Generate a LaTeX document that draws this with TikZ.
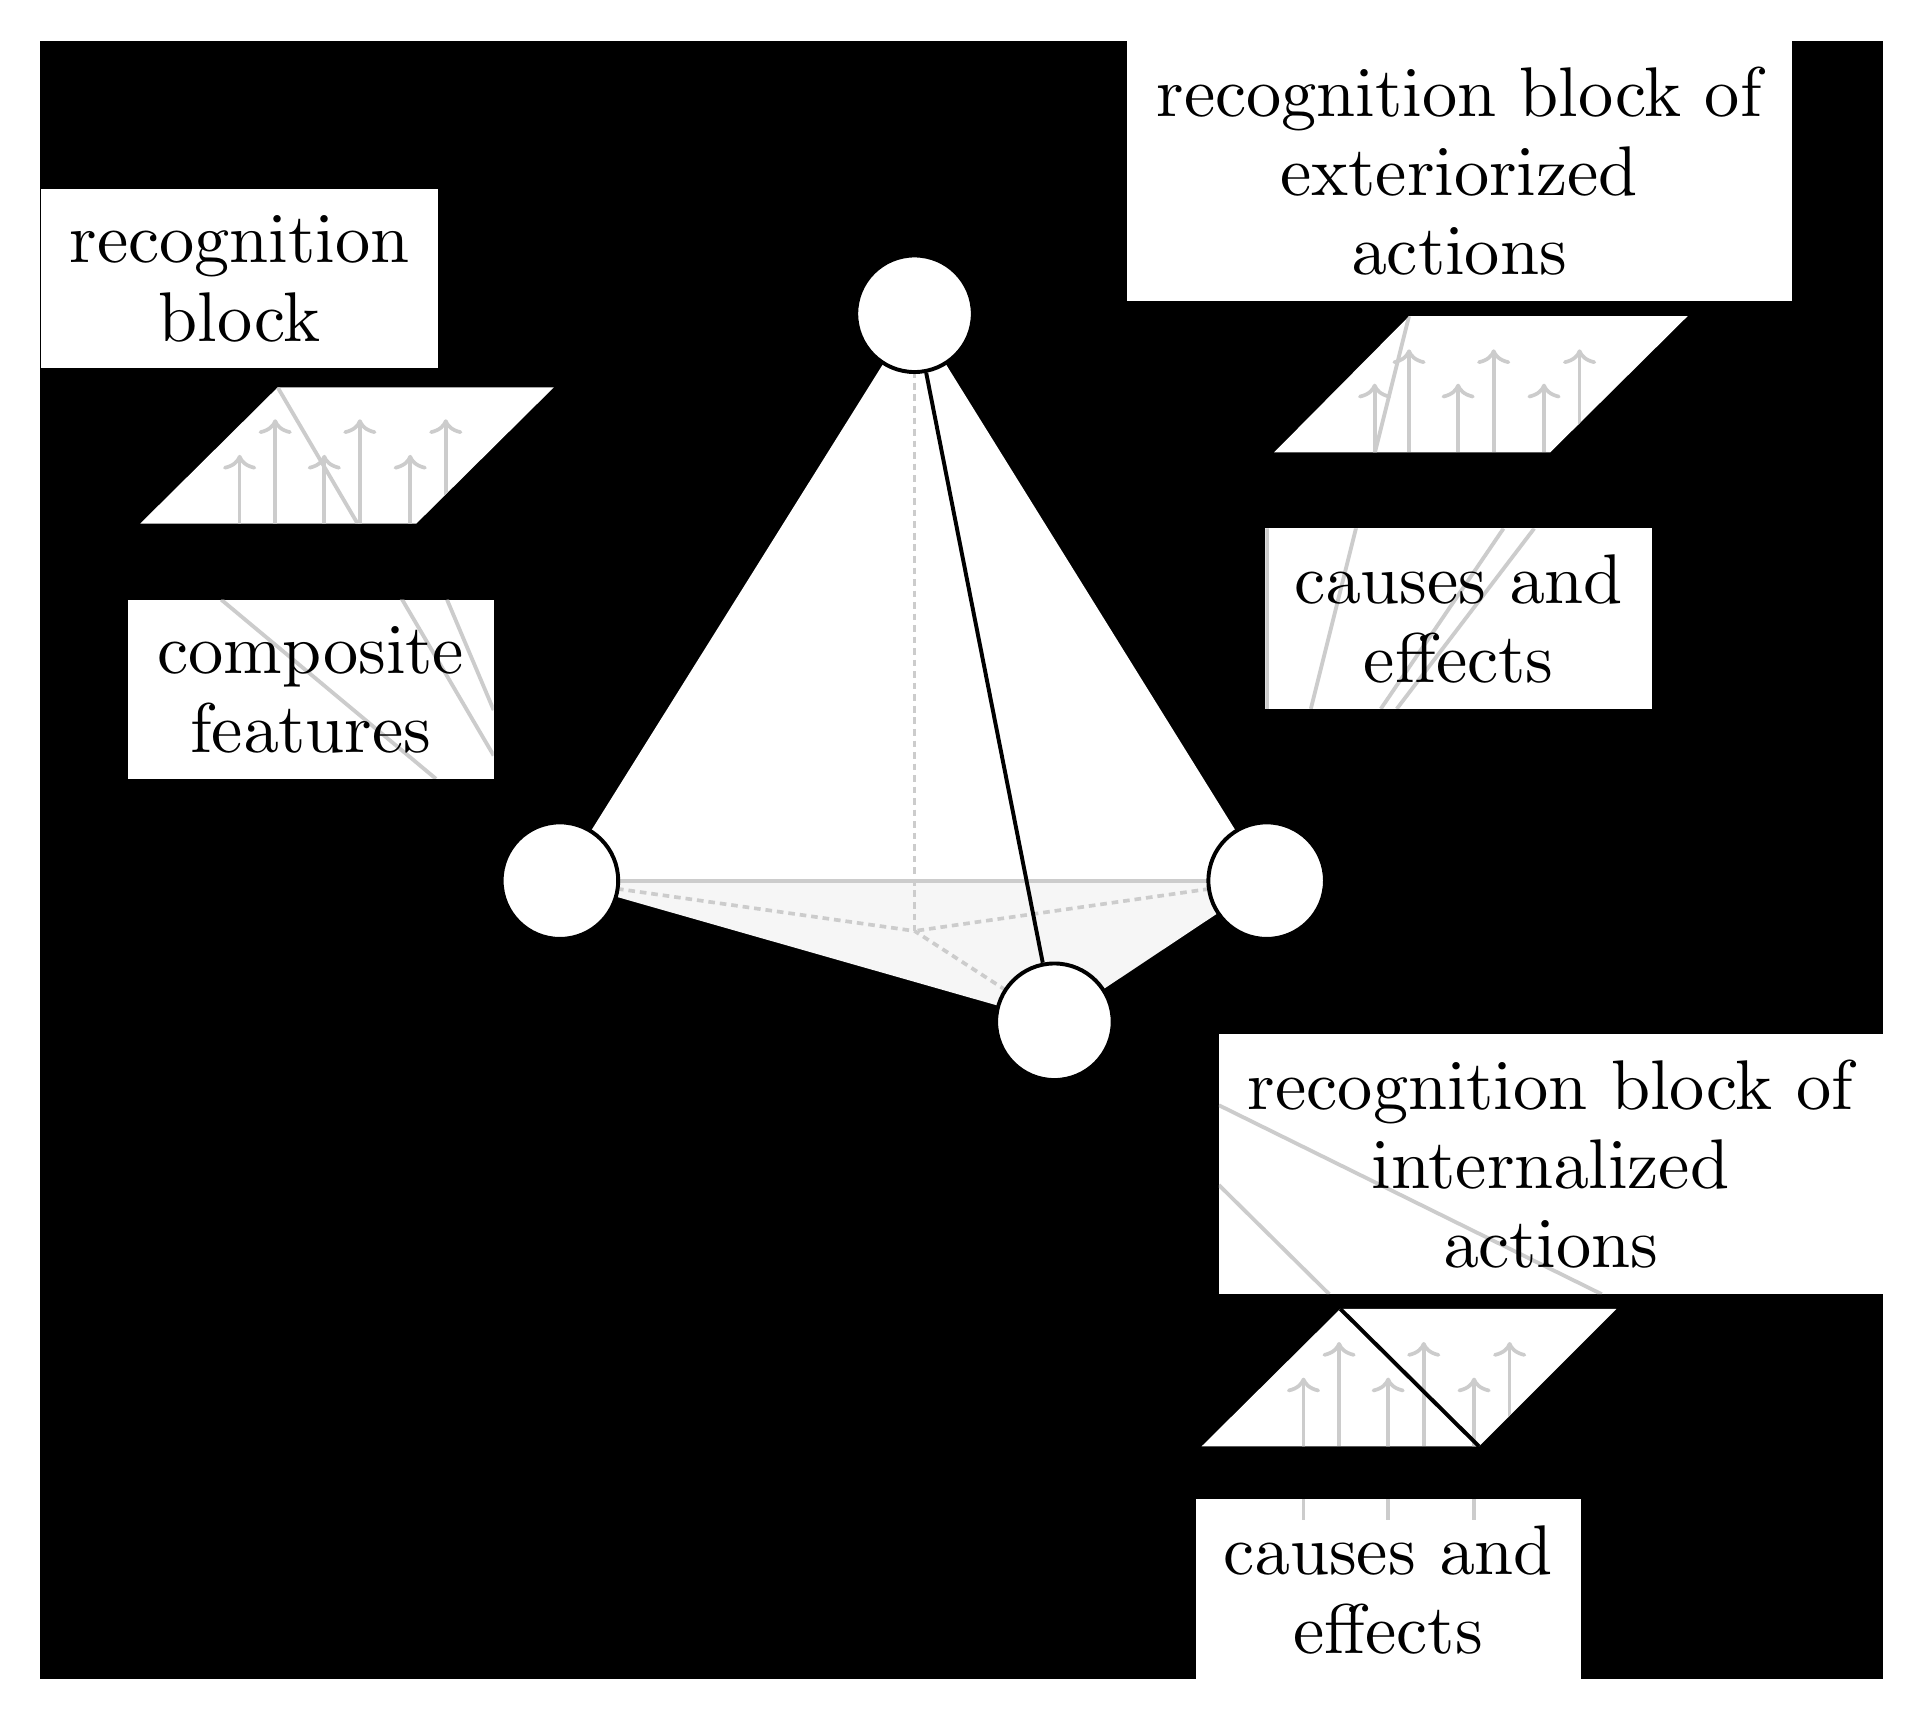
\documentclass[tikz,border=0pt]{standalone}
\usetikzlibrary{arrows.meta}
\font\bigrmfont=cmr10 at 28.65pt
\newcommand\bigtext{\bigrmfont\setlength{\baselineskip}{32.25pt}}
\begin{document}
\begin{tikzpicture}[x=0.5pt,y=-0.5pt,
  whitebox/.style={fill=white,draw=none,inner sep=0pt},
  txtlabel/.style={inner sep=0pt,align=center,font=\bigtext},
  ball/.style={circle,fill=white,draw=black,line width=1.6pt,minimum size=47.5pt,inner sep=0pt},
  gline/.style={draw=ggray,line width=1.55pt},
  gdash/.style={draw=ggray,line width=1.5pt,dash pattern=on 2.7pt off 2pt},
  garrow/.style={draw=ggray,line width=1.5pt,-{To[length=6pt,width=13.5pt]}},
  para/.style={fill=white,draw=none}]
\definecolor{ggray}{HTML}{CCCCCC}
\definecolor{faceshade}{HTML}{F6F6F6}
\useasboundingbox (-0.3,-0.7) rectangle (1567.7,1401);
\fill[black] (32,33) rectangle (1534,1368);
% tetrahedron body
\coordinate (tT) at (745,255);
\coordinate (tL) at (456,717);
\coordinate (tR) at (1032,717);
\coordinate (tF) at (859,832);
\coordinate (tC) at (745,758);
\fill[white] (tT) -- (tL) -- (tR) -- cycle;
\fill[faceshade] (tL) -- (tF) -- (tR) -- cycle;
\draw[gline] (tL) -- (tR);
\draw[gdash] (tT) -- (tC);
\draw[gdash] (tL) -- (tC);
\draw[gdash] (tR) -- (tC);
\draw[gdash] (tF) -- (tC);
% boxes
\node[whitebox,minimum width=162pt,minimum height=73pt] (boxA) at (195,226) {};
\node[whitebox,minimum width=149pt,minimum height=73pt] (boxAb) at (253,561) {};
\node[whitebox,minimum width=271pt,minimum height=106pt] (boxB) at (1189,139) {};
\node[whitebox,minimum width=157.5pt,minimum height=73.5pt] (boxBb) at (1188.5,503.5) {};
\node[whitebox,minimum width=270.5pt,minimum height=106pt] (boxD) at (1263.5,948) {};
\node[whitebox,minimum width=157pt,minimum height=73.5pt] (boxE) at (1131,1294.5) {};
% planes
\fill[para] (114,426) coordinate (p1a) -- (226,315) coordinate (p1b) -- (451,315) coordinate (p1c) -- (339,426) coordinate (p1d) -- cycle;
\fill[para] (1038,368) coordinate (p2a) -- (1148,257) coordinate (p2b) -- (1375,257) coordinate (p2c) -- (1263,368) coordinate (p2d) -- cycle;
\fill[para] (979,1178) coordinate (p3a) -- (1092,1066) coordinate (p3b) -- (1317,1066) coordinate (p3c) -- (1205,1178) coordinate (p3d) -- cycle;
% grey lines visible only on the white shapes
\begin{scope}
\clip (114,426) -- (226,315) -- (451,315) -- (339,426) -- cycle
      (1038,368) -- (1148,257) -- (1375,257) -- (1263,368) -- cycle
      (979,1178) -- (1092,1066) -- (1317,1066) -- (1205,1178) -- cycle
      (104,488) rectangle (402,634)
      (1031,430) rectangle (1346,577)
      (993,842) rectangle (1534,1054)
      (974,1221) rectangle (1288,1368);
\foreach \bx/\ty/\by in {195/370/426,224/341/426,264/370/426,293/341/426,334/370/426,363/341/426,
                     1120/312/368,1148/284/368,1188/312/368,1217/284/368,1258/312/368,1287/284/368,
                     1062/1122/1238,1091/1093/1178,1131/1122/1238,1160/1093/1178,1201/1122/1238,1230/1093/1178}
  {\coordinate (atip) at (\bx,\ty);
   \coordinate (abase) at (\bx,\by);
   \draw[garrow] (abase) -- (atip);}
\coordinate (a1) at (226,315); \coordinate (a2) at (402,615);
\coordinate (a3) at (180,488); \coordinate (a4) at (355,634);
\coordinate (a5) at (364,488); \coordinate (a6) at (402,578);
\coordinate (b1) at (1148,257); \coordinate (b2) at (1068,577);
\coordinate (b3) at (1225,430); \coordinate (b4) at (1125,577);
\coordinate (b5) at (1250,430); \coordinate (b6) at (1138,577);
\coordinate (b7) at (1032,430); \coordinate (b8) at (1032,577);
\coordinate (d1) at (993,900); \coordinate (d2) at (1305,1054);
\coordinate (d3) at (993,965); \coordinate (d4) at (1083,1054);
\foreach \u/\v in {a1/a2,a3/a4,a5/a6,b1/b2,b3/b4,b5/b6,b7/b8,d1/d2,d3/d4}
  \draw[gline] (\u) -- (\v);
\end{scope}
% texts above the grey lines
\node[txtlabel] (tA) at (boxA) {recognition\\block};
\node[txtlabel] (tAb) at (boxAb) {composite\\features};
\node[txtlabel] (tB) at (boxB) {recognition block of\\exteriorized\\actions};
\node[txtlabel] (tBb) at (boxBb) {causes and\\effects};
\node[txtlabel] (tD) at (boxD) {recognition block of\\internalized\\actions};
\node[txtlabel] (tE) at (boxE) {causes and\\effects};
\draw[black,line width=1.6pt] (p3b) -- (p3d);
% balls
\node[ball] (nT) at (tT) {};
\node[ball] (nL) at (tL) {};
\node[ball] (nR) at (tR) {};
\node[ball] (nF) at (tF) {};
\draw[black,line width=1.6pt] (nT) -- (nF);
\end{tikzpicture}
\end{document}
